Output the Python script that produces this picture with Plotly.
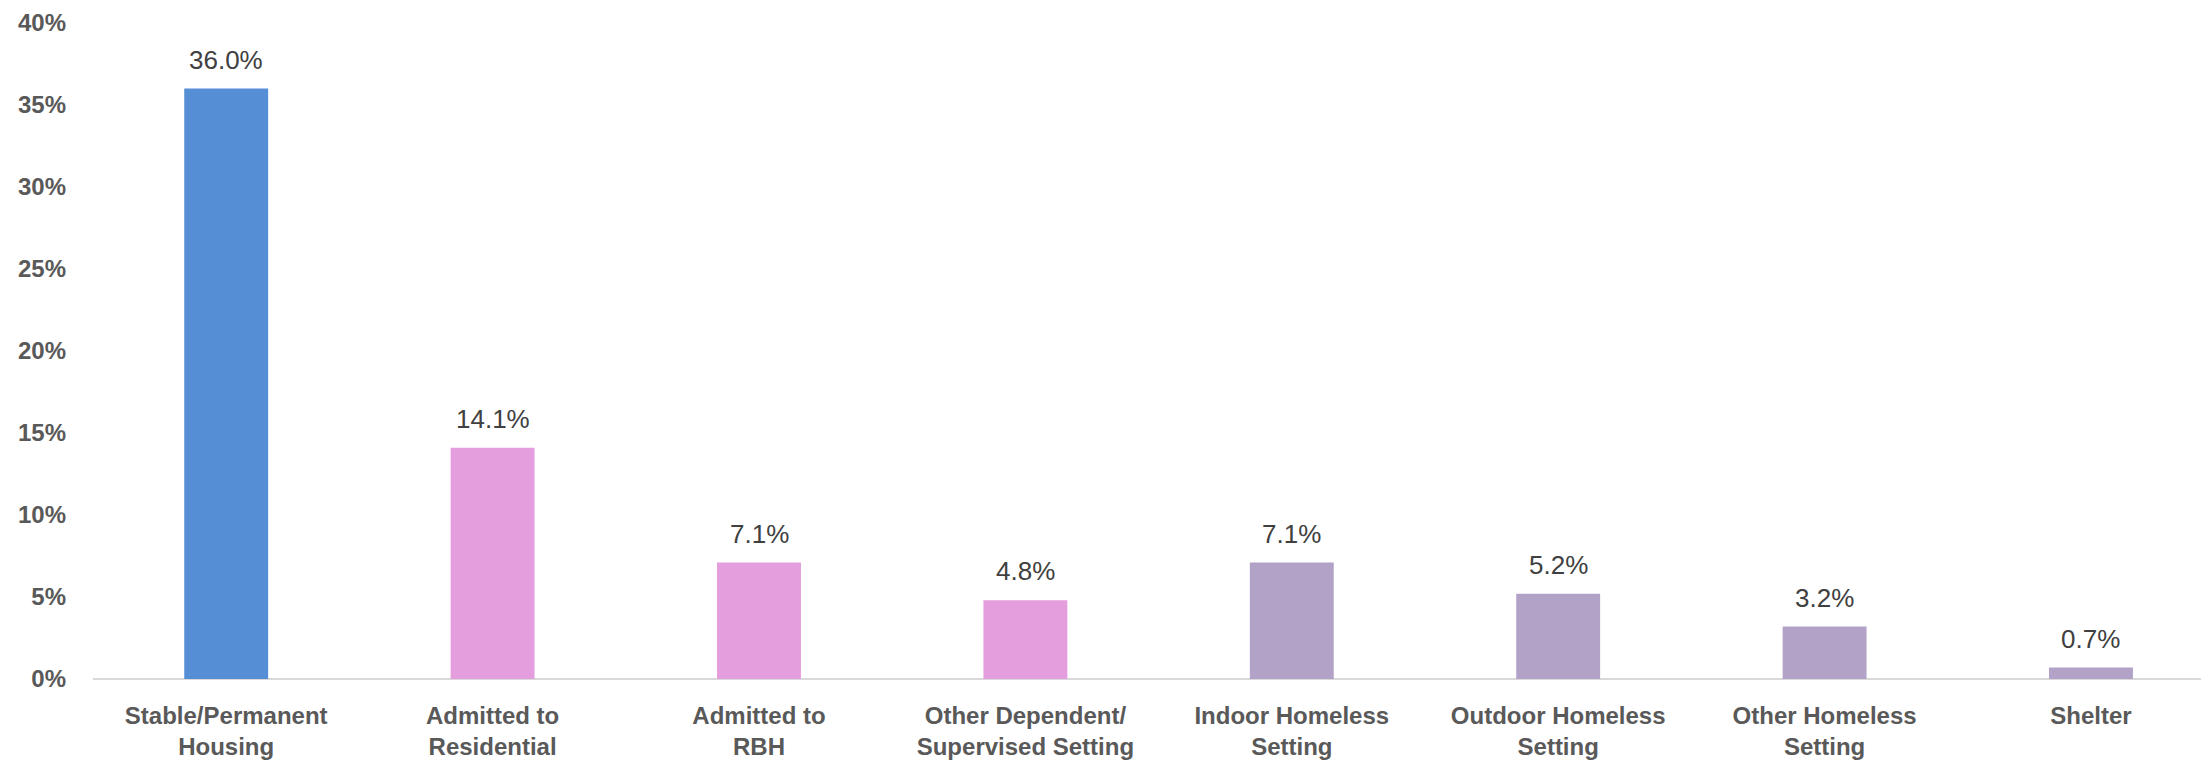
import plotly.graph_objects as go

categories = [
    "Stable/Permanent<br>Housing",
    "Admitted to<br>Residential",
    "Admitted to<br>RBH",
    "Other Dependent/<br>Supervised Setting",
    "Indoor Homeless<br>Setting",
    "Outdoor Homeless<br>Setting",
    "Other Homeless<br>Setting",
    "Shelter",
]
values = [36.0, 14.1, 7.1, 4.8, 7.1, 5.2, 3.2, 0.7]
groups = ["stable", "dependent", "dependent", "dependent",
          "homeless", "homeless", "homeless", "homeless"]
group_colors = {"stable": "#558ED5", "dependent": "#E49EDD", "homeless": "#B3A2C7"}
y_ticks = [0, 5, 10, 15, 20, 25, 30, 35, 40]
y_tick_labels = [f"{t}%" for t in y_ticks]

fig = go.Figure()
fig.add_trace(go.Bar(
    x=categories,
    y=values,
    marker=dict(color=[group_colors[g] for g in groups], line=dict(width=0)),
    hoverinfo="skip",
))

for c, v in zip(categories, values):
    fig.add_annotation(
        x=c, y=v, text=f"{v:.1f}%", showarrow=False,
        yanchor="bottom", yshift=12,
        font=dict(family="Liberation Sans, Arial, sans-serif", size=26, color="#404040"),
    )

fig.update_layout(
    width=2201, height=754,
    margin=dict(l=85, r=0, t=15, b=83),
    paper_bgcolor="white", plot_bgcolor="white",
    bargap=0.685,
    showlegend=False,
    xaxis=dict(
        range=[-0.5, 7.443],
        showgrid=False, zeroline=False,
        showline=False,
        ticks="",
        tickfont=dict(family="Liberation Sans, Arial, sans-serif", size=24, color="#595959", weight="bold"),
        ticklabelstandoff=20,
    ),
    yaxis=dict(
        range=[0, 40],
        tickvals=y_ticks, ticktext=y_tick_labels,
        showgrid=False, zeroline=True, zerolinecolor="#D9D9D9", zerolinewidth=2,
        ticks="",
        tickfont=dict(family="Liberation Sans, Arial, sans-serif", size=24, color="#595959", weight="bold"),
        ticklabelstandoff=26,
    ),
)

fig.write_html("out.html")
